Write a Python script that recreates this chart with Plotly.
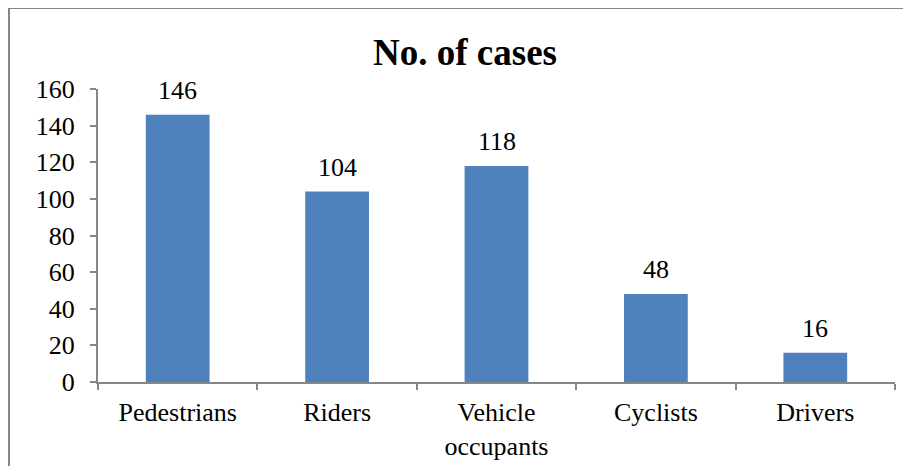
import plotly.graph_objects as go

categories = ["Pedestrians", "Riders", "Vehicle<br>occupants", "Cyclists", "Drivers"]
values = [146, 104, 118, 48, 16]
y_ticks = [0, 20, 40, 60, 80, 100, 120, 140, 160]

OFF = 8  # page body margin
W, H = 911 - OFF, 466 - OFF
L, R, T, B = 98 - OFF, 16, 89 - OFF, 84
pw, ph = W - L - R, H - T - B

def px_x(p):
    return (p - OFF - L) / pw

def px_y(p):
    return (H - B - (p - OFF)) / ph

FONT = "Liberation Serif"

fig = go.Figure(go.Bar(
    x=categories, y=values,
    marker=dict(color="#4F81BD", line=dict(width=0)),
))

for c, v in zip(categories, values):
    fig.add_annotation(x=c, y=v, text=str(v), showarrow=False,
                       yanchor="bottom", yshift=8,
                       font=dict(family=FONT, size=26, color="black"))

fig.update_layout(
    width=W, height=H,
    margin=dict(l=L, r=R, t=T, b=B, autoexpand=False),
    paper_bgcolor="white", plot_bgcolor="white",
    bargap=0.6,
    showlegend=False,
    font=dict(family=FONT, size=26, color="black"),
    title=dict(text="<b>No. of cases</b>", x=(465 - OFF) / W, xanchor="center",
               y=1 - (52 - OFF) / H, yanchor="middle",
               font=dict(family=FONT, size=37, color="black")),
)

fig.update_yaxes(
    range=[0, 160], tickvals=y_ticks, showgrid=False, zeroline=False,
    showline=True, linecolor="#868686", linewidth=2,
    ticks="outside", ticklen=6, tickcolor="#868686", tickwidth=2,
    tickfont=dict(family=FONT, size=26, color="black"),
    ticklabelstandoff=10, automargin=False,
)
fig.update_xaxes(
    showgrid=False, showline=True, linecolor="#868686", linewidth=2,
    ticks="outside", tickson="boundaries", ticklen=6, tickcolor="#868686", tickwidth=2,
    tickfont=dict(family=FONT, size=26, color="black"),
    ticklabelstandoff=6, automargin=False,
)

# outer chart border (top and left visible in frame)
fig.add_shape(type="line", xref="paper", yref="paper",
              x0=px_x(9), x1=px_x(911 + 20), y0=px_y(8), y1=px_y(8),
              line=dict(color="#868686", width=2))
fig.add_shape(type="line", xref="paper", yref="paper",
              x0=px_x(9), x1=px_x(9), y0=px_y(8), y1=px_y(466 + 20),
              line=dict(color="#868686", width=2))

fig.write_html("out.html")
